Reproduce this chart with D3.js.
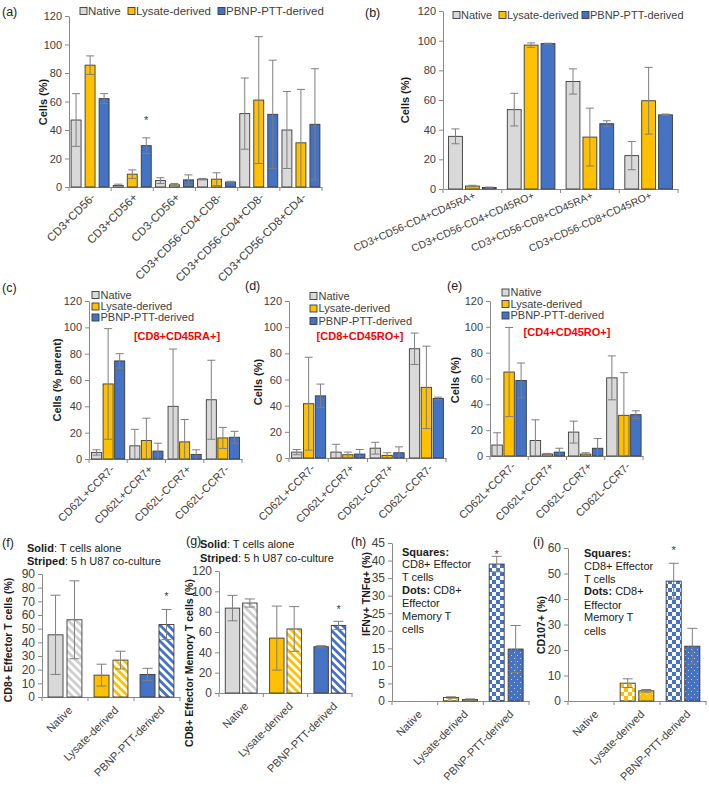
<!DOCTYPE html>
<html>
<head>
<meta charset="utf-8">
<script src="https://cdn.jsdelivr.net/npm/d3@7"></script>
<style>
  body { margin: 0; background: #fff; }
  svg { display: block; font-family: "Liberation Sans", Arial, sans-serif; }
</style>
</head>
<body>
<svg id="fig" width="709" height="792"></svg>
<script>
// series / groups
const seriesNames = ["Native", "Lysate-derived", "PBNP-PTT-derived"];
const groupNames = ["Native", "Lysate-derived", "PBNP-PTT-derived"];

// (a)
const aCategories = ["CD3+CD56-", "CD3+CD56+", "CD3-CD56+", "CD3+CD56-CD4-CD8-", "CD3+CD56-CD4+CD8-", "CD3+CD56-CD8+CD4-"];
const aNative = [47, 1, 4.5, 5.5, 51.5, 40];
const aNativeErr = [18.5, 1, 2, 0.5, 25, 27];
const aLysate = [85.5, 9, 1.5, 5.5, 61, 31];
const aLysateErr = [6.5, 3, 1, 4.5, 44.5, 37.5];
const aPbnp = [62, 29, 5, 3.5, 51, 44];
const aPbnpErr = [3.5, 5.5, 3.5, 0.5, 38, 39];

// (b)
const bCategories = ["CD3+CD56-CD4+CD45RA+", "CD3+CD56-CD4+CD45RO+", "CD3+CD56-CD8+CD45RA+", "CD3+CD56-CD8+CD45RO+"];
const bNative = [35.5, 53.5, 72.5, 22.5];
const bNativeErr = [5, 11, 8.5, 9.5];
const bLysate = [2, 97, 35, 59.5];
const bLysateErr = [0.5, 1.5, 19.5, 22.5];
const bPbnp = [1, 98, 44, 50];
const bPbnpErr = [0.3, 0.3, 2, 0.5];

// (c) (d) (e)
const ccrCategories = ["CD62L+CCR7-", "CD62L+CCR7+", "CD62L-CCR7+", "CD62L-CCR7-"];
const cNative = [5, 10, 40, 45];
const cNativeErr = [2, 12.5, 43.5, 30];
const cLysate = [57, 14, 13, 16];
const cLysateErr = [42, 17, 17, 8];
const cPbnp = [74.5, 6, 3.5, 16.5];
const cPbnpErr = [5.5, 6, 3.5, 4.5];

const dNative = [4.5, 4.5, 7.5, 83.5];
const dNativeErr = [2, 6, 4.5, 12];
const dLysate = [41.5, 2.5, 2, 54];
const dLysateErr = [35.5, 2, 2, 31.5];
const dPbnp = [47.5, 3, 4, 45.5];
const dPbnpErr = [9, 3.5, 4.5, 1];

const eNative = [8.5, 12, 18.5, 60.5];
const eNativeErr = [9.5, 16, 8.5, 17];
const eLysate = [65, 1.5, 1.5, 31.5];
const eLysateErr = [34.5, 0.5, 1, 33];
const ePbnp = [58.5, 3, 6, 32];
const ePbnpErr = [13.5, 3, 7.5, 3];

// (f) (g): solid = T cells alone, striped = 5 h U87 co-culture
const fSolid = [45.5, 16, 16.5];
const fSolidErr = [29, 8, 4.5];
const fStriped = [56.5, 27, 53];
const fStripedErr = [28.5, 6.5, 11];

const gSolid = [83.5, 54, 45.5];
const gSolidErr = [12.5, 31.5, 1];
const gStriped = [88.5, 63, 66.5];
const gStripedErr = [4, 22, 4];

// (h) (i): squares = CD8+ effector, dots = CD8+ effector memory
const hSquares = [0, 1, 39];
const hSquaresErr = [0, 0.2, 2.2];
const hDots = [0, 0.4, 14.8];
const hDotsErr = [0, 0.2, 6.7];

const iSquares = [0, 7, 47];
const iSquaresErr = [0, 1.7, 7];
const iDots = [0, 4, 21.5];
const iDotsErr = [0, 0.5, 7];

// significance marks [series, category]
const aStars = [[2, 1]];
const fStars = [[1, 2]];
const gStars = [[1, 2]];
const hStars = [[0, 2]];
const iStars = [[0, 2]];

const colors = ['#d9d9d9', '#ffc000', '#4472c4'];
const lightColors = ['#cfcfcf', '#ffc000', '#4472c4'];
const axisColor = '#898989';
const textColor = '#404040';

const svg = d3.select('#fig');
const defs = svg.append('defs');

// patterns
lightColors.forEach((c, k) => {
  const st = defs.append('pattern').attr('id', 'stripe' + k)
    .attr('patternUnits', 'userSpaceOnUse').attr('width', 5.6).attr('height', 5.6)
    .attr('patternTransform', 'rotate(-45)');
  st.append('rect').attr('width', 5.6).attr('height', 5.6).attr('fill', '#fff');
  st.append('rect').attr('width', 2.8).attr('height', 5.6).attr('fill', c);

  const ch = defs.append('pattern').attr('id', 'check' + k)
    .attr('patternUnits', 'userSpaceOnUse').attr('width', 8).attr('height', 8);
  ch.append('rect').attr('width', 8).attr('height', 8).attr('fill', '#fff');
  ch.append('rect').attr('width', 4).attr('height', 4).attr('fill', c);
  ch.append('rect').attr('x', 4).attr('y', 4).attr('width', 4).attr('height', 4).attr('fill', c);

  const dt = defs.append('pattern').attr('id', 'dots' + k)
    .attr('patternUnits', 'userSpaceOnUse').attr('width', 6).attr('height', 6);
  dt.append('rect').attr('width', 6).attr('height', 6).attr('fill', c);
  dt.append('circle').attr('cx', 1.5).attr('cy', 1.5).attr('r', 0.55).attr('fill', '#fff').attr('opacity', 0.8);
  dt.append('circle').attr('cx', 4.5).attr('cy', 4.5).attr('r', 0.55).attr('fill', '#fff').attr('opacity', 0.8);
});

function drawPanel(o) {
  const g = svg.append('g');
  const x = d3.scaleBand().domain(o.categories).range([o.left, o.right]);
  const xs = d3.scaleBand().domain(d3.range(o.values.length)).range([0, x.bandwidth()])
    .paddingInner(o.pi).paddingOuter(o.po);
  const y = d3.scaleLinear().domain([0, o.yMax]).range([o.bottom, o.top]);

  // y axis
  const ya = g.append('g').attr('transform', `translate(${o.left},0)`)
    .call(d3.axisLeft(y).tickValues(d3.range(0, o.yMax + 0.001, o.yStep)).tickSize(4).tickSizeOuter(0).tickPadding(3))
    .attr('font-family', null).attr('font-size', o.tickFont);
  ya.select('.domain').attr('stroke', axisColor);
  ya.selectAll('.tick line').attr('stroke', axisColor);
  ya.selectAll('.tick text').attr('fill', textColor);

  // x axis with ticks between categories
  const xa = g.append('g').attr('transform', `translate(0,${o.bottom})`)
    .call(d3.axisBottom(x).tickSize(0).tickSizeOuter(0).tickFormat(''));
  xa.select('.domain').attr('stroke', axisColor);
  g.selectAll(null).data(d3.range(o.categories.length + 1)).join('line')
    .attr('x1', i => o.left + i * x.step()).attr('x2', i => o.left + i * x.step())
    .attr('y1', o.bottom).attr('y2', o.bottom + 4).attr('stroke', axisColor);

  // bars
  o.values.forEach((vals, s) => {
    g.selectAll(null).data(vals).join('rect')
      .attr('x', (d, i) => x(o.categories[i]) + xs(s))
      .attr('y', d => y(d))
      .attr('width', xs.bandwidth())
      .attr('height', d => o.bottom - y(d))
      .attr('fill', (d, i) => o.fill(s, i))
      .attr('stroke', '#3a3a3a').attr('stroke-width', 0.9);
  });

  // error bars
  const cap = o.cap || 4;
  o.values.forEach((vals, s) => {
    vals.forEach((v, i) => {
      const e = o.errors[s][i];
      if (!e) return;
      const cx = x(o.categories[i]) + xs(s) + xs.bandwidth() / 2;
      const lo = Math.max(0, v - e);
      const eg = g.append('g').attr('stroke', '#7f7f7f').attr('stroke-width', 1);
      eg.append('line').attr('x1', cx).attr('x2', cx).attr('y1', y(lo)).attr('y2', y(v + e));
      eg.append('line').attr('x1', cx - cap).attr('x2', cx + cap).attr('y1', y(v + e)).attr('y2', y(v + e));
      if (v - e > 0) eg.append('line').attr('x1', cx - cap).attr('x2', cx + cap).attr('y1', y(lo)).attr('y2', y(lo));
    });
  });

  // stars
  (o.stars || []).forEach(([s, i]) => {
    const v = o.values[s][i] + o.errors[s][i];
    g.append('text').attr('x', x(o.categories[i]) + xs(s) + xs.bandwidth() / 2)
      .attr('y', y(v) - o.starGap + 6).attr('text-anchor', 'middle')
      .attr('font-size', 11).attr('fill', textColor).text('*');
  });

  // category labels
  g.selectAll(null).data(o.categories).join('text')
    .attr('transform', d => `translate(${x(d) + x.bandwidth() / 2 + o.lx},${o.bottom + o.ly}) rotate(${o.angle})`)
    .attr('text-anchor', 'end').attr('font-size', o.catFont).attr('fill', textColor)
    .text(d => d);

  // y title
  g.append('text').attr('transform', `translate(${o.titleX},${o.titleY}) rotate(-90)`)
    .attr('text-anchor', 'middle').attr('dy', '0.35em')
    .attr('font-size', o.titleFont || 11).attr('font-weight', 'bold').attr('fill', '#1a1a1a')
    .text(o.yTitle);

  // panel letter
  g.append('text').attr('x', o.letterX).attr('y', o.letterY)
    .attr('font-size', 12.5).attr('fill', '#222').text(o.letter);
  return g;
}

function hLegend(g, items, yc, fontSize) {
  items.forEach(([name, xp], k) => {
    g.append('rect').attr('x', xp).attr('y', yc - 3.5).attr('width', 7).attr('height', 7)
      .attr('fill', colors[k]).attr('stroke', '#3a3a3a').attr('stroke-width', 0.9);
    g.append('text').attr('x', xp + 8).attr('y', yc).attr('dy', '0.35em')
      .attr('font-size', fontSize).attr('fill', textColor).text(name);
  });
}

function vLegend(g, xp, rows, fontSize) {
  seriesNames.forEach((name, k) => {
    g.append('rect').attr('x', xp).attr('y', rows[k] - 3.5).attr('width', 7).attr('height', 7)
      .attr('fill', colors[k]).attr('stroke', '#3a3a3a').attr('stroke-width', 0.9);
    g.append('text').attr('x', xp + 8.5).attr('y', rows[k]).attr('dy', '0.35em')
      .attr('font-size', fontSize).attr('fill', textColor).text(name);
  });
}

function redLabel(g, xc, yc, txt) {
  g.append('text').attr('x', xc).attr('y', yc).attr('dy', '0.35em').attr('text-anchor', 'middle')
    .attr('font-size', 11).attr('font-weight', 'bold').attr('fill', '#ff0000').text(txt);
}

function noteLines(g, xp, ys, lines, fontSize) {
  lines.forEach((parts, k) => {
    const t = g.append('text').attr('x', xp).attr('y', ys[k]).attr('dy', '0.35em')
      .attr('font-size', fontSize).attr('fill', '#1a1a1a');
    parts.forEach(([txt, bold]) => t.append('tspan').attr('font-weight', bold ? 'bold' : null).text(txt));
  });
}

const solidFill = (s, i) => colors[s];

// (a)
const pa = drawPanel({
  categories: aCategories, values: [aNative, aLysate, aPbnp], errors: [aNativeErr, aLysateErr, aPbnpErr],
  left: 69, right: 322, top: 16, bottom: 187, yMax: 120, yStep: 20, pi: 0.29, po: 0.15,
  fill: solidFill, stars: aStars, starGap: 20, tickFont: 11, catFont: 11.5, lx: 6, ly: 11, angle: -45,
  yTitle: 'Cells (%)', titleX: 43, titleY: 102, letter: '(a)', letterX: 2, letterY: 16
});
hLegend(pa, [['Native', 80], ['Lysate-derived', 128], ['PBNP-PTT-derived', 218]], 11, 11.5);

// (b)
const pb = drawPanel({
  categories: bCategories, values: [bNative, bLysate, bPbnp], errors: [bNativeErr, bLysateErr, bPbnpErr],
  left: 443, right: 678, top: 11, bottom: 189, yMax: 120, yStep: 20, pi: 0.18, po: 0.33,
  fill: solidFill, tickFont: 11, catFont: 10.5, lx: 4, ly: 9, angle: -24,
  yTitle: 'Cells (%)', titleX: 405, titleY: 100, letter: '(b)', letterX: 365, letterY: 17
});
hLegend(pb, [['Native', 453], ['Lysate-derived', 499], ['PBNP-PTT-derived', 582]], 15, 11);

// (c)
const pc = drawPanel({
  categories: ccrCategories, values: [cNative, cLysate, cPbnp], errors: [cNativeErr, cLysateErr, cPbnpErr],
  left: 89, right: 242, top: 301, bottom: 459, yMax: 120, yStep: 20, pi: 0.13, po: 0.22,
  fill: solidFill, tickFont: 11, catFont: 11, lx: 7, ly: 11, angle: -45,
  yTitle: 'Cells (% parent)', titleX: 57, titleY: 380, letter: '(c)', letterX: 2, letterY: 292
});
vLegend(pc, 92, [295, 306.5, 317.5], 11);
redLabel(pc, 177, 336, '[CD8+CD45RA+]');

// (d)
const pd = drawPanel({
  categories: ccrCategories, values: [dNative, dLysate, dPbnp], errors: [dNativeErr, dLysateErr, dPbnpErr],
  left: 289, right: 446, top: 301, bottom: 458, yMax: 120, yStep: 20, pi: 0.13, po: 0.22,
  fill: solidFill, tickFont: 11, catFont: 11, lx: 7, ly: 11, angle: -45,
  yTitle: 'Cells (%)', titleX: 258, titleY: 382, letter: '(d)', letterX: 245, letterY: 290
});
vLegend(pd, 310, [296, 308.5, 321], 11);
redLabel(pd, 360, 336, '[CD8+CD45RO+]');

// (e)
const pe = drawPanel({
  categories: ccrCategories, values: [eNative, eLysate, ePbnp], errors: [eNativeErr, eLysateErr, ePbnpErr],
  left: 490, right: 643, top: 301, bottom: 456, yMax: 120, yStep: 20, pi: 0.13, po: 0.16,
  fill: solidFill, tickFont: 11, catFont: 11, lx: 7, ly: 11, angle: -45,
  yTitle: 'Cells (%)', titleX: 455, titleY: 380, letter: '(e)', letterX: 447, letterY: 290
});
vLegend(pe, 502, [292.5, 304, 315.5], 11);
redLabel(pe, 567, 332, '[CD4+CD45RO+]');

// (f)
const pf = drawPanel({
  categories: groupNames, values: [fSolid, fStriped], errors: [fSolidErr, fStripedErr],
  left: 42, right: 180, top: 574, bottom: 697, yMax: 90, yStep: 10, pi: 0.21, po: 0.32, cap: 5,
  fill: (s, i) => s === 0 ? colors[i] : `url(#stripe${i})`, stars: fStars, starGap: 16,
  tickFont: 12, catFont: 11, lx: 8, ly: 14, angle: -45,
  yTitle: 'CD8+ Effector T cells (%)', titleX: 8, titleY: 640, titleFont: 10.5,
  letter: '(f)', letterX: 2, letterY: 547
});
noteLines(pf, 27, [548, 561], [[['Solid', true], [': T  cells alone', false]], [['Striped', true], [': 5 h U87 co-culture', false]]], 11);

// (g)
const pg = drawPanel({
  categories: groupNames, values: [gSolid, gStriped], errors: [gSolidErr, gStripedErr],
  left: 219, right: 352, top: 571, bottom: 693, yMax: 120, yStep: 20, pi: 0.17, po: 0.36, cap: 5,
  fill: (s, i) => s === 0 ? colors[i] : `url(#stripe${i})`, stars: gStars, starGap: 14,
  tickFont: 12, catFont: 11, lx: 8, ly: 14, angle: -45,
  yTitle: 'CD8+ Effector Memory T cells (%)', titleX: 189, titleY: 663, titleFont: 10.5,
  letter: '(g)', letterX: 186, letterY: 545
});
noteLines(pg, 200, [544, 558], [[['Solid', true], [': T  cells alone', false]], [['Striped', true], [': 5 h U87 co-culture', false]]], 11);

// (h)
const ph = drawPanel({
  categories: groupNames, values: [hSquares, hDots], errors: [hSquaresErr, hDotsErr],
  left: 392, right: 529, top: 543, bottom: 701, yMax: 45, yStep: 5, pi: 0.21, po: 0.31, cap: 5,
  fill: (s, i) => s === 0 ? `url(#check${i})` : `url(#dots${i})`, stars: hStars, starGap: 4,
  tickFont: 12, catFont: 11, lx: 8, ly: 14, angle: -45,
  yTitle: 'IFNγ+ TNFα+ (%)', titleX: 366, titleY: 594, titleFont: 10.5,
  letter: '(h)', letterX: 351, letterY: 546
});
const noteText = [
  [['Squares:', true]], [['CD8+ Effector', false]], [['T cells', false]],
  [['Dots:', true], [' CD8+', false]], [['Effector', false]], [['Memory T', false]], [['cells', false]]
];
noteLines(ph, 402, [552, 564.5, 577, 590, 603, 616, 629], noteText, 11);

// (i)
const pi_ = drawPanel({
  categories: groupNames, values: [iSquares, iDots], errors: [iSquaresErr, iDotsErr],
  left: 568, right: 706, top: 548, bottom: 701, yMax: 60, yStep: 10, pi: 0.19, po: 0.33, cap: 5,
  fill: (s, i) => s === 0 ? `url(#check${i})` : `url(#dots${i})`, stars: iStars, starGap: 15,
  tickFont: 12, catFont: 11, lx: 8, ly: 14, angle: -45,
  yTitle: 'CD107+ (%)', titleX: 541, titleY: 625, titleFont: 10.5,
  letter: '(i)', letterX: 533, letterY: 546
});
noteLines(pi_, 584, [553, 566, 579, 591.5, 605, 617.5, 631], noteText, 11);
</script>
</body>
</html>
